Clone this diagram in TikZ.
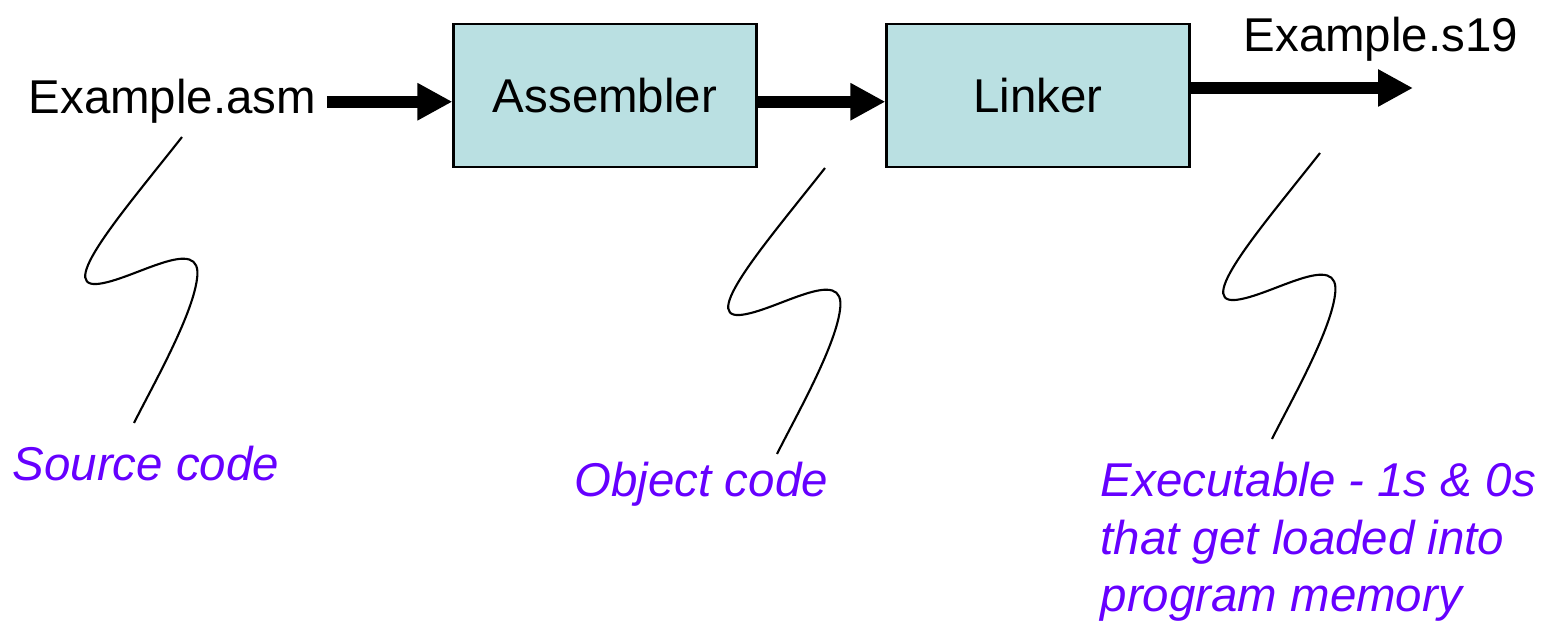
\documentclass[tikz,border=0pt]{standalone}
\usepackage{fontspec}
\setmainfont{Liberation Sans}
\usepackage{tikz}
\usetikzlibrary{arrows.meta}

\definecolor{boxfill}{RGB}{186,224,226}
\definecolor{notecol}{RGB}{102,0,255}

\begin{document}
\begin{tikzpicture}[
    box/.style={
        rectangle, draw, line width=0.6pt, fill=boxfill,
        minimum height=14.3mm, minimum width=30.3mm,
        font=\fontsize{13.5}{16.5}\selectfont
    },
    txt/.style={font=\fontsize{13.5}{16.5}\selectfont, inner sep=0pt, anchor=base west},
    note/.style={txt, text=notecol, font=\fontsize{13.5}{16.5}\selectfont\itshape, align=left},
    arr/.style={-{Triangle[length=3.5mm, width=3.5mm]}, line width=3.5pt},
    squig/.pic={
        \draw[line width=0.6pt] (0,0) .. controls (-0.55,-0.7) and (-1.25,-1.5) .. (-0.85,-1.47)
            .. controls (-0.5,-1.44) and (0.22,-0.95) .. (0.15,-1.42)
            .. controls (0.1,-1.8) and (-0.3,-2.5) .. (-0.48,-2.86);
    }
]
\useasboundingbox (0,0) rectangle (15.49,-6.21);

% tool chain
\node[txt] (src) at (0.28,-1.14) {Example.asm};
\node[box] (asm) at (6.05,-0.955) {Assembler};
\node[box] (lnk) at (10.38,-0.955) {Linker};
\node[txt] (s19) at (12.43,-0.52) {Example.s19};
\coordinate (out) at (14.13,-0.88);

\draw[arr] ([xshift=1mm]src.east) -- (src.east -| asm.west);
\draw[arr] (asm.east |- src.east) -- (lnk.west |- src.east);
\draw[arr] ([yshift=0.075cm]lnk.east) -- (out);

% callouts
\node[note] (srclbl) at (0.12,-4.81) {Source code};
\node[note] (objlbl) at (5.74,-4.97) {Object code};
\node[note] (exelbl) at (11.0,-6.12) {Executable - 1s \& 0s\\that get loaded into\\program memory};

\coordinate (sq1) at (1.82,-1.37);
\coordinate (sq2) at (8.25,-1.68);
\coordinate (sq3) at (13.20,-1.53);
\pic at (sq1) {squig};
\pic at (sq2) {squig};
\pic at (sq3) {squig};
\end{tikzpicture}
\end{document}
